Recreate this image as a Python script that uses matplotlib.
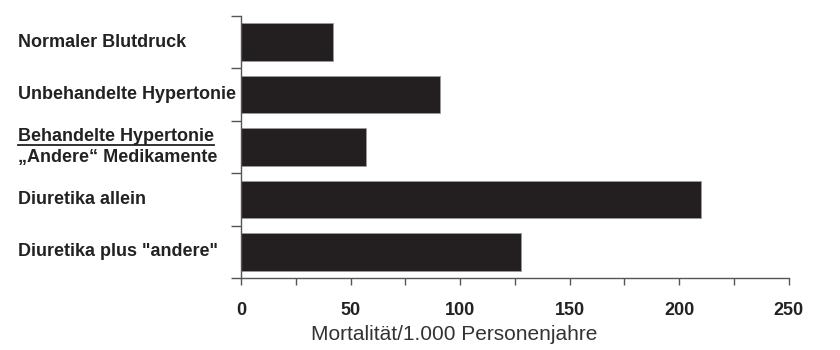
import matplotlib

matplotlib.use("Agg")
import matplotlib.pyplot as plt
from matplotlib.lines import Line2D
from matplotlib.ticker import MultipleLocator
import matplotlib.transforms as mtransforms

categories = [
    "Normaler Blutdruck",
    "Unbehandelte Hypertonie",
    "Behandelte Hypertonie\n\u201eAndere\u201c Medikamente",
    "Diuretika allein",
    'Diuretika plus "andere"',
]
values = [42, 91, 57, 210, 128]
x_ticks = [0, 50, 100, 150, 200, 250]

plt.rcParams["font.family"] = ["Liberation Sans", "DejaVu Sans"]
ink = "#222222"
bar_color = "#231f20"
label_size = 13

fig = plt.figure(figsize=(8.4, 3.5), dpi=100)
ax = fig.add_axes([0.287, 0.206, 0.652, 0.748])

pos = list(range(len(categories)))
ax.barh(pos, values, height=0.72, color=bar_color, edgecolor="#9a9a9a", linewidth=0.6)

ax.set_xlim(0, 250)
ax.set_ylim(len(categories) - 0.5, -0.5)
ax.set_xticks(x_ticks)
ax.xaxis.set_minor_locator(MultipleLocator(25))
ax.set_yticks([p - 0.5 for p in pos] + [len(categories) - 0.5])
ax.set_yticklabels([])

for s in ["top", "right"]:
    ax.spines[s].set_visible(False)
for s in ["left", "bottom"]:
    ax.spines[s].set_color("#555555")
    ax.spines[s].set_linewidth(1.0)

ax.tick_params(axis="y", direction="out", length=7, width=1.0, color="#555555")
ax.tick_params(axis="x", which="both", direction="out", length=5, width=1.0,
               color="#555555", pad=12, labelsize=13, labelcolor=ink)
for lbl in ax.get_xticklabels():
    lbl.set_fontweight("bold")

ax.set_xlabel("Mortalität/1.000 Personenjahre", fontsize=15, color="#333333", labelpad=6)
ax.xaxis.set_label_coords(0.389, -0.18)

trans = mtransforms.blended_transform_factory(fig.transFigure, ax.transData)
label_x = 18 / 840
texts = []
for p, cat in zip(pos, categories):
    t = ax.text(label_x, p, cat, transform=trans, ha="left", va="center",
                fontsize=label_size, fontweight="bold", color=ink, linespacing=1.3)
    texts.append(t)

# underline the first line of the two-line label
fig.canvas.draw()
renderer = fig.canvas.get_renderer()
first_line = ax.text(label_x, 2, categories[2].split("\n")[0], transform=trans,
                     ha="left", va="center", fontsize=label_size, fontweight="bold",
                     color="none")
bb_all = texts[2].get_window_extent(renderer)
bb_first = first_line.get_window_extent(renderer)
y_line = bb_all.y1 - bb_first.height + 0.5
inv = fig.transFigure.inverted()
(x0, y0) = inv.transform((bb_all.x0, y_line))
(x1, _) = inv.transform((bb_all.x0 + bb_first.width, y_line))
fig.add_artist(Line2D([x0, x1], [y0, y0], transform=fig.transFigure,
                      color=ink, linewidth=1.3))
first_line.remove()

fig.savefig("out.png", dpi=100)
plt.close(fig)
